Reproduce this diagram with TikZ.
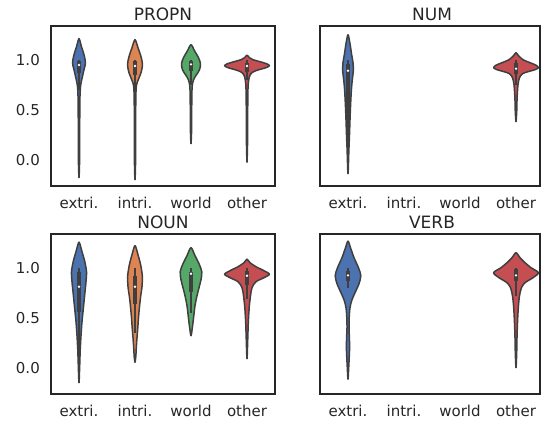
\documentclass[tikz,border=0pt]{standalone}
\usepackage{fontspec}
\setmainfont{DejaVu Sans}

\definecolor{vblue}{HTML}{4C72B0}
\definecolor{vorange}{HTML}{DD8452}
\definecolor{vgreen}{HTML}{55A868}
\definecolor{vred}{HTML}{C44E52}
\definecolor{vgray}{HTML}{3F3F3F}
\definecolor{axgray}{HTML}{262626}

% violin: centre, colour, top tip, bottom tip, list of value/half-width (px)
\newcommand\violin[5]{%
  \gdef\rside{}\gdef\lside{}%
  \foreach \yy/\hw in {#5}{\xdef\rside{\rside(\hw,\yy)}\xdef\lside{(-\hw,\yy)\lside}}%
  \edef\vpath{(0,#3)\rside(0,#4)\lside}%
  \begin{scope}[shift={(#1,0)},x=1pt]
    \expandafter\violinshape\expandafter{\vpath}{#2}
  \end{scope}}
\newcommand\violinshape[2]{\filldraw[violin,fill=#2] plot[smooth cycle] coordinates {#1};}
% inner box: centre, whisker low, q1, median, q3, whisker high
\newcommand\innerbox[6]{%
  \draw[whisker] (#1,#2) -- (#1,#6);
  \draw[iqr] (#1,#3) -- (#1,#5);
  \fill[white] (#1,#4) circle (1.3pt);}

\begin{document}
\begin{tikzpicture}[x=1pt, y=-1pt]
    % Styles
    \tikzstyle{violin} = [draw=vgray, line width=1.5pt, line join=round]
    \tikzstyle{whisker} = [vgray, line width=1.5pt]
    \tikzstyle{iqr} = [vgray, line width=4.2pt]
    \tikzstyle{frame} = [axgray, line width=1.3pt]
    \tikzstyle{ticklab} = [font=\fontsize{15}{18}\selectfont, text=axgray, inner sep=0pt]
    \tikzstyle{titlelab} = [font=\fontsize{17}{20}\selectfont, text=axgray, inner sep=0pt, anchor=base]

    \useasboundingbox (0,0) rectangle (541,421);

    % PROPN
    \begin{scope}[shift={(79,159.7)}, x=56pt, y=100pt]
        \violin{0}{vblue}{1.21}{-0.18}{1.13/2.5, 1.05/5, 0.97/6.5, 0.9/5, 0.82/3.2, 0.74/1.6, 0.6/0.9, 0.3/0.7, 0.0/0.6}
        \violin{1}{vorange}{1.2}{-0.2}{1.12/3, 1.03/6, 0.95/7.5, 0.87/6, 0.8/3.3, 0.74/1.4, 0.6/0.8, 0.3/0.7, 0.0/0.6}
        \violin{2}{vgreen}{1.15}{0.16}{1.09/3.5, 1.02/7.5, 0.96/9.5, 0.9/8.5, 0.85/5.5, 0.8/2.6, 0.72/1.1, 0.5/0.7, 0.3/0.6}
        \violin{3}{vred}{1.045}{-0.025}{1.02/2.5, 1.0/6, 0.98/13, 0.96/19.5, 0.94/22.4, 0.92/19, 0.9/12, 0.88/6.5, 0.85/3.2, 0.79/1.6, 0.68/0.9, 0.45/0.7, 0.2/0.6}
        \innerbox{0}{0.7}{0.87}{0.947}{0.99}{1.0}
        \innerbox{1}{0.65}{0.85}{0.937}{0.99}{1.0}
        \innerbox{2}{0.75}{0.89}{0.954}{0.99}{1.0}
        \innerbox{3}{0.8}{0.88}{0.937}{0.97}{1.0}
        \draw[frame] (-0.5,-0.263) rectangle (3.5,1.337);
        \node[titlelab] (propn) at (1.5,1.392) {PROPN};
        \foreach \t [count=\k] in {0.0,0.5,1.0}
            \node[ticklab, anchor=east] (propn-y\k) at ([xshift=-11pt]-0.5,\t) {\t};
        \foreach \c/\lab [count=\k] in {0/extri., 1/intri., 2/world, 3/other}
            \node[ticklab, anchor=base] (propn-x\k) at (\c,-0.488) {\lab};
    \end{scope}

    % NUM
    \begin{scope}[shift={(348,159.7)}, x=56pt, y=100pt]
        \violin{0}{vblue}{1.25}{-0.14}{1.16/2, 1.06/3.5, 0.97/5, 0.89/5.3, 0.8/4.3, 0.7/3.4, 0.55/2.6, 0.4/2, 0.25/1.5, 0.1/0.9}
        \violin{3}{vred}{1.07}{0.38}{1.04/2.5, 1.0/7, 0.97/14, 0.945/20, 0.92/22.4, 0.9/19, 0.88/12, 0.86/6.5, 0.82/3.5, 0.75/2, 0.62/1.1, 0.5/0.8}
        \innerbox{0}{-0.1}{0.35}{0.89}{0.96}{1.0}
        \innerbox{3}{0.75}{0.86}{0.91}{0.97}{1.0}
        \draw[frame] (-0.5,-0.263) rectangle (3.43,1.337);
        \node[titlelab] (num) at (1.5,1.392) {NUM};
        \foreach \c/\lab [count=\k] in {0/extri., 1/intri., 2/world, 3/other}
            \node[ticklab, anchor=base] (num-x\k) at (\c,-0.488) {\lab};
    \end{scope}

    % NOUN
    \begin{scope}[shift={(79,367.7)}, x=56pt, y=100pt]
        \violin{0}{vblue}{1.255}{-0.15}{1.16/3, 1.06/5.8, 0.96/7.5, 0.86/7, 0.76/6, 0.66/5, 0.56/4, 0.46/3, 0.32/2, 0.17/1.2, 0.02/0.7}
        \violin{1}{vorange}{1.22}{0.055}{1.13/3, 1.03/5.6, 0.92/7.3, 0.81/7, 0.71/5.6, 0.6/4.4, 0.5/3.5, 0.4/2.8, 0.3/2, 0.2/1.3, 0.11/0.8}
        \violin{2}{vgreen}{1.2}{0.32}{1.12/4, 1.04/8, 0.96/10.8, 0.88/10, 0.8/8, 0.72/6, 0.62/4, 0.52/2.8, 0.42/1.6}
        \violin{3}{vred}{1.085}{0.09}{1.05/3, 1.01/9, 0.97/17, 0.935/22.4, 0.9/17, 0.86/9, 0.8/5, 0.72/3.5, 0.6/2.2, 0.45/1.3, 0.3/0.8}
        \innerbox{0}{-0.05}{0.555}{0.81}{0.96}{1.0}
        \innerbox{1}{0.35}{0.635}{0.81}{0.92}{1.0}
        \innerbox{2}{0.55}{0.76}{0.94}{0.96}{1.0}
        \innerbox{3}{0.69}{0.83}{0.92}{0.97}{1.0}
        \draw[frame] (-0.5,-0.263) rectangle (3.5,1.337);
        \node[titlelab] (noun) at (1.5,1.392) {NOUN};
        \foreach \t [count=\k] in {0.0,0.5,1.0}
            \node[ticklab, anchor=east] (noun-y\k) at ([xshift=-11pt]-0.5,\t) {\t};
        \foreach \c/\lab [count=\k] in {0/extri., 1/intri., 2/world, 3/other}
            \node[ticklab, anchor=base] (noun-x\k) at (\c,-0.488) {\lab};
    \end{scope}

    % VERB
    \begin{scope}[shift={(348,367.7)}, x=56pt, y=100pt]
        \violin{0}{vblue}{1.265}{-0.115}{1.2/2.5, 1.1/6, 1.0/10.5, 0.92/12.8, 0.84/11, 0.76/7.5, 0.68/4, 0.6/2, 0.5/1.2, 0.4/1.0, 0.3/1.4, 0.2/1.6, 0.1/1.2, 0.0/0.7}
        \violin{3}{vred}{1.15}{0.0}{1.1/4, 1.05/9, 1.0/15, 0.95/22.4, 0.9/17, 0.85/9, 0.8/5.5, 0.72/3.5, 0.6/2.3, 0.45/1.5, 0.3/1.0, 0.15/0.7}
        \innerbox{0}{0.8}{0.87}{0.924}{0.965}{1.0}
        \innerbox{3}{0.72}{0.87}{0.924}{0.99}{1.0}
        \draw[frame] (-0.5,-0.263) rectangle (3.43,1.337);
        \node[titlelab] (verb) at (1.5,1.392) {VERB};
        \foreach \c/\lab [count=\k] in {0/extri., 1/intri., 2/world, 3/other}
            \node[ticklab, anchor=base] (verb-x\k) at (\c,-0.488) {\lab};
    \end{scope}

\end{tikzpicture}
\end{document}
